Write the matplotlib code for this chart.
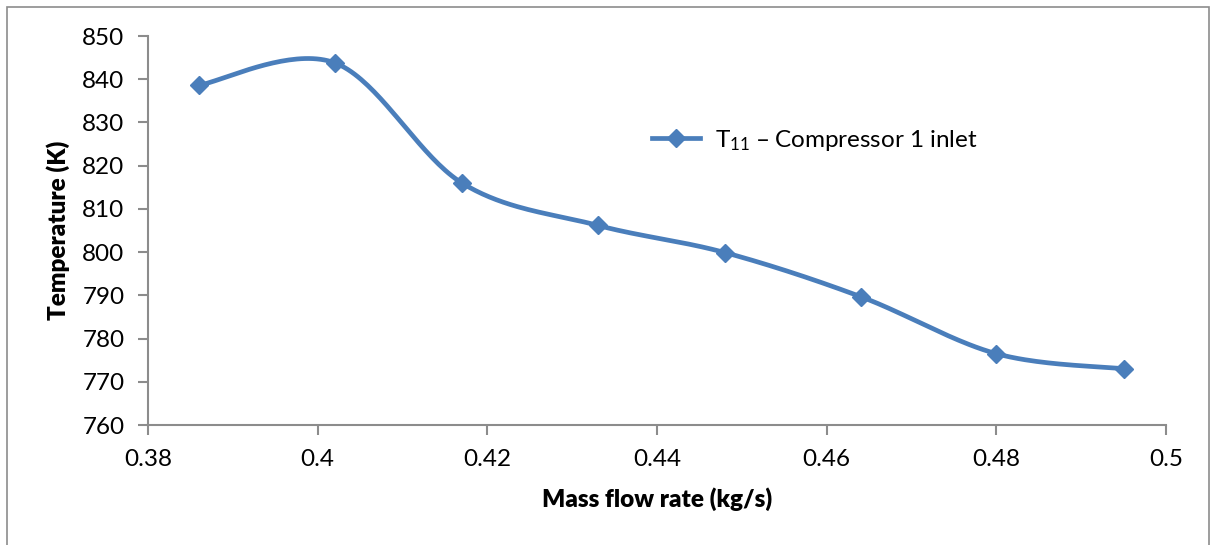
import numpy as np
import matplotlib
matplotlib.use("Agg")
import matplotlib.pyplot as plt
from matplotlib.patches import Rectangle
from matplotlib.lines import Line2D

mass_flow = [0.386, 0.402, 0.417, 0.433, 0.448, 0.464, 0.480, 0.495]
temperature = [838.6, 843.8, 816.0, 806.2, 799.9, 789.7, 776.5, 773.0]
series_label = "T$_{11}$ – Compressor 1 inlet"
x_ticks = [0.38, 0.40, 0.42, 0.44, 0.46, 0.48, 0.50]
x_tick_labels = ["0.38", "0.4", "0.42", "0.44", "0.46", "0.48", "0.5"]
y_ticks = [760, 770, 780, 790, 800, 810, 820, 830, 840, 850]

plt.rcParams['font.family'] = ['Lato', 'DejaVu Sans']
plt.rcParams['mathtext.default'] = 'regular'

COLOR = '#4A7EBB'
GRAY = '#8C8C8C'

def smooth(xs, ys, n=40):
    # Catmull-Rom style bezier smoothing (like Excel's smoothed line)
    P = np.column_stack([xs, ys]).astype(float)
    out = []
    for i in range(len(P) - 1):
        p0 = P[i - 1] if i > 0 else P[i]
        p1 = P[i]
        p2 = P[i + 1]
        p3 = P[i + 2] if i + 2 < len(P) else P[i + 1]
        c1 = p1 + (p2 - p0) / 6.0
        c2 = p2 - (p3 - p1) / 6.0
        t = np.linspace(0, 1, n)[:, None]
        seg = ((1 - t) ** 3) * p1 + 3 * ((1 - t) ** 2) * t * c1 + 3 * (1 - t) * t ** 2 * c2 + t ** 3 * p2
        out.append(seg if i == 0 else seg[1:])
    arr = np.vstack(out)
    return arr[:, 0], arr[:, 1]

W, H = 1211, 545
fig = plt.figure(figsize=(W / 100, H / 100), dpi=100)
fig.patch.set_facecolor('white')
ax = fig.add_axes([148 / W, (H - 425) / H, (1166 - 148) / W, (425 - 36) / H])

sx, sy = smooth(mass_flow, temperature)
ax.plot(sx, sy, color=COLOR, lw=3.4, solid_capstyle='round', zorder=2)
ax.plot(mass_flow, temperature, linestyle='none', marker='D', ms=9.5, color=COLOR, zorder=3)

ax.set_xlim(0.38, 0.50)
ax.set_ylim(760, 850)
ax.set_xticks(x_ticks)
ax.set_xticklabels(x_tick_labels)
ax.set_yticks(y_ticks)

for s in ['top', 'right']:
    ax.spines[s].set_visible(False)
for s in ['left', 'bottom']:
    ax.spines[s].set_color(GRAY)
    ax.spines[s].set_linewidth(1.5)
ax.tick_params(axis='both', direction='out', length=7, width=1.5, color=GRAY,
               labelsize=17.5, labelcolor='black')
ax.tick_params(axis='x', pad=10)
ax.tick_params(axis='y', pad=10)

ax.set_xlabel("Mass flow rate (kg/s)", fontsize=17.5, fontweight='heavy', labelpad=13)
ax.set_ylabel("Temperature (K)", fontsize=17.5, fontweight='heavy', labelpad=9)

handle = Line2D([], [], color=COLOR, lw=3.4, marker='D', ms=9.5)
ax.legend([handle], [series_label], loc='upper left',
          bbox_to_anchor=((630 - 148) / (1166 - 148), (425 - 106) / (425 - 36)),
          frameon=False, fontsize=17.5, handlelength=2.0, handletextpad=0.6)

fig.add_artist(Rectangle((7 / W, -0.01), (1209 - 7) / W, (H - 7) / H + 0.01,
                         transform=fig.transFigure, fill=False, edgecolor=GRAY, lw=1.2))

fig.savefig("out.png", dpi=100)
